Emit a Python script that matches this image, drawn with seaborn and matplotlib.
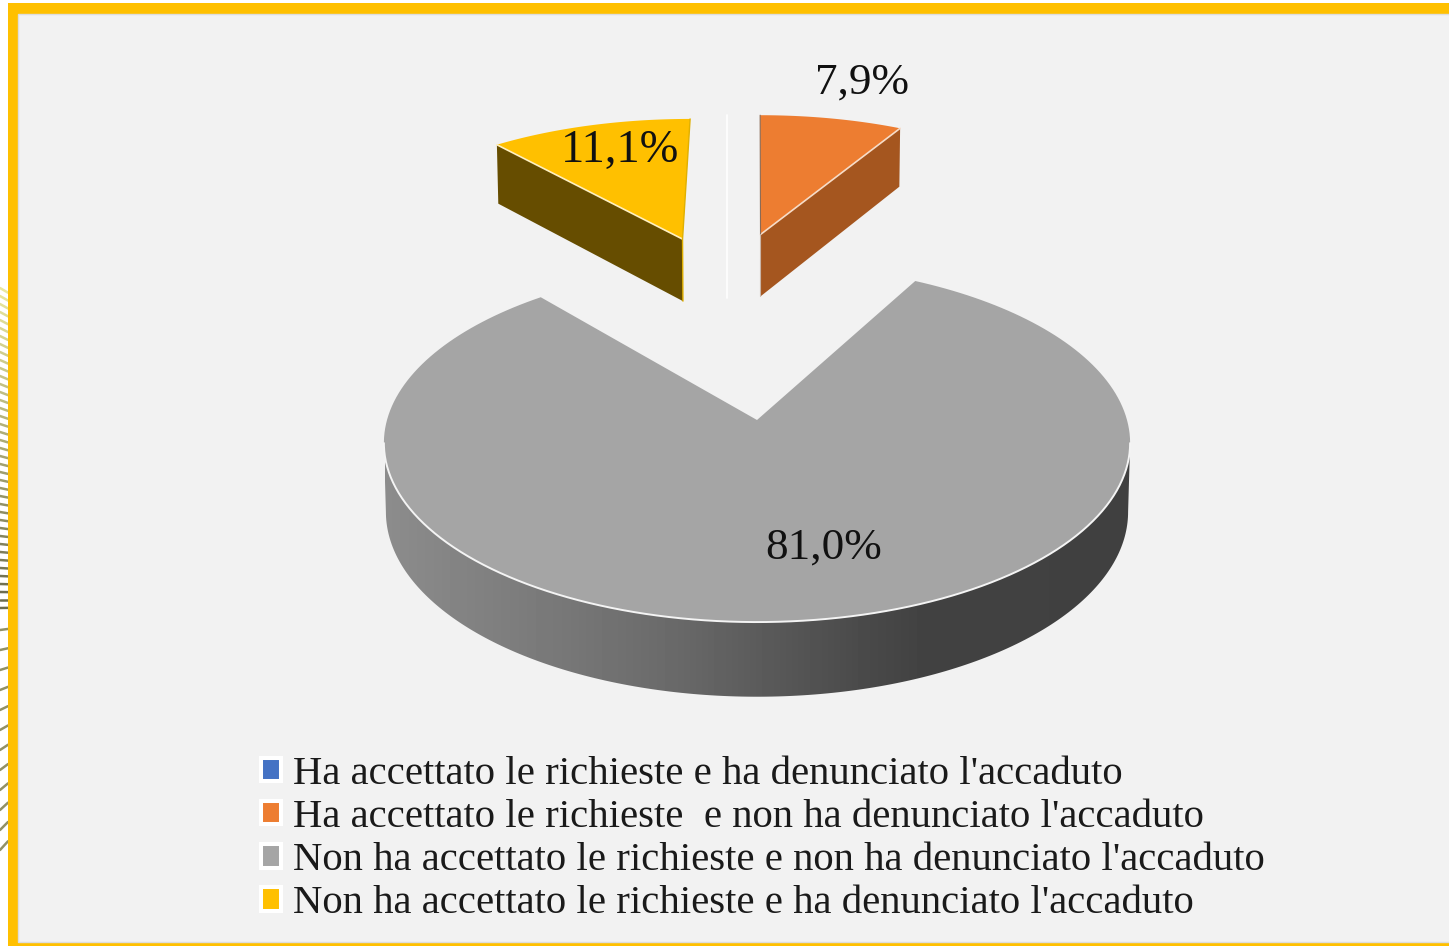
import numpy as np
import seaborn as sns
import matplotlib.pyplot as plt
from matplotlib.patches import Patch, Polygon

categories = ["Ha accettato le richieste e ha denunciato l'accaduto",
              "Ha accettato le richieste  e non ha denunciato l'accaduto",
              "Non ha accettato le richieste e non ha denunciato l'accaduto",
              "Non ha accettato le richieste e ha denunciato l'accaduto"]
values = [0.0, 7.9, 81.0, 11.1]
value_labels = ["", "7,9%", "81,0%", "11,1%"]
colors = ["#4472c4", "#ed7d31", "#a5a5a5", "#ffc000"]

sns.set_theme(style="white")
plt.rcParams['font.family'] = ['Liberation Serif', 'DejaVu Serif']

W, H = 1449, 946
fig = plt.figure(figsize=(W / 100, H / 100), dpi=100, facecolor="white")
ax = fig.add_axes([0, 0, 1, 1])
ax.set_xlim(0, W)
ax.set_ylim(H, 0)
ax.axis("off")

# perspective of the 3d pie, in image pixels
PERSP = 0.129


def project(u, v, bottom=False):
    w = 1 + PERSP * v
    if bottom:
        return 757 + 368 * u / w, 488 - 181.8 * v / w
    return 757 + 370 * u / w, 420 - 176 * v / w


def arc(start, stop, offset=(0, 0), bottom=False, r=1.0):
    t = np.radians(np.linspace(start, stop, 200))
    return project(offset[0] + r * np.sin(t), offset[1] + r * np.cos(t), bottom)


def radial(angle, offset=(0, 0), bottom=False, r=1.0):
    t = np.radians(angle)
    return project(np.array([offset[0], offset[0] + r * np.sin(t)]),
                   np.array([offset[1], offset[1] + r * np.cos(t)]), bottom)


# frame and page background
ax.add_patch(plt.Rectangle((8, 3), W, H, fc="#ffc000", ec="none", zorder=1))
ax.add_patch(plt.Rectangle((18, 14), W, 928, fc="#f2f2f2", ec="#dddddd", lw=1, zorder=2))
for y in np.r_[np.arange(288, 612, 8.0), np.arange(630, 862, 20.0)]:
    strength = min(1, (y - 280) / 320) if y < 612 else 0.7
    col = np.array([0.93, 0.92, 0.62]) * (1 - strength) + np.array([0.42, 0.42, 0.3]) * strength
    slope = 0.015 if y < 612 else 0.035
    ax.plot([0, 8], [y, y + (600 - y) * slope], color=col, lw=1.8, zorder=0)

# start at 12 o'clock, clockwise
angles = np.cumsum([0] + values) * 3.6
offsets = [(0.0, 1.2), (0.011, 1.22), (0, 0), (-0.232, 1.185)]
R = 1.01

# grey slice: wall with a left to right shading, then the top
lim = np.degrees(np.arccos(-PERSP))
xt, yt = arc(lim, 360 - lim)
xb, yb = arc(lim, 360 - lim, bottom=True)
wall = Polygon(np.c_[np.r_[xt, xb[::-1]], np.r_[yt, yb[::-1]]], fc="none", ec="none", zorder=3)
ax.add_patch(wall)
stops_x = [385, 470, 570, 670, 770, 870, 920, 1131]
stops_v = [0.55, 0.51, 0.465, 0.415, 0.35, 0.285, 0.26, 0.25]
grad = np.interp(np.arange(385, 1132), stops_x, stops_v)[None, :]
img = ax.imshow(grad, extent=(385, 1132, 700, 400), cmap="gray", vmin=0, vmax=1,
                aspect="auto", zorder=3)
img.set_clip_path(wall)
ax.set_xlim(0, W)
ax.set_ylim(H, 0)

xa, ya = arc(angles[2], angles[3])
xv, yv = project(0, 0)
ax.fill(np.r_[xv, xa], np.r_[yv, ya], color=colors[2], lw=0, zorder=4)
ax.plot(xt, yt, color="#f4f4f4", lw=1.4, zorder=5)

# blue slice has no width, only its seam is left
ax.plot([727, 727], [115, 298], color="white", lw=1.2, zorder=3)

# orange slice
off = offsets[1]
xr, yr = radial(angles[2], off, r=R)
xrb, yrb = radial(angles[2], off, bottom=True, r=R)
ax.fill([xr[0], xr[1], xrb[1], xrb[0]], [yr[0], yr[1], yrb[1], yrb[0]], color="#a5561f", lw=0, zorder=3)
xa, ya = arc(angles[1], angles[2], off, r=R)
xv, yv = project(*off)
ax.fill(np.r_[xv, xa], np.r_[yv, ya], color=colors[1], lw=0, zorder=4)
ax.plot(xr, yr, color="#f6dcc8", lw=1.2, zorder=5)
ax.plot([xa[0], xv], [ya[0], yv], color="#8a6a55", lw=0.8, zorder=5)
ax.plot([xv, project(*off, bottom=True)[0]], [yv, project(*off, bottom=True)[1]],
        color="#c9b5a8", lw=0.8, zorder=5)

# yellow slice
off = offsets[3]
xr, yr = radial(angles[3], off, r=R)
xrb, yrb = radial(angles[3], off, bottom=True, r=R)
ax.fill([xr[0], xr[1], xrb[1], xrb[0]], [yr[0], yr[1], yrb[1], yrb[0]], color="#664d00", lw=0, zorder=3)
xa, ya = arc(angles[3], angles[4], off, r=R)
xv, yv = project(*off)
ax.fill(np.r_[xv, xa], np.r_[yv, ya], color=colors[3], lw=0, zorder=4)
ax.plot(xr, yr, color="#fff0c0", lw=1.2, zorder=5)
ax.plot([xa[-1], xv, project(*off, bottom=True)[0]], [ya[-1], yv, project(*off, bottom=True)[1]],
        color="#e0b000", lw=1.0, zorder=5)

# value labels
ax.text(862, 83, value_labels[1], fontsize=32.5, color="#111111", ha="center", va="center", zorder=6)
ax.text(620, 151, value_labels[3], fontsize=33.5, color="#111111", ha="center", va="center", zorder=6)
ax.text(824, 548, value_labels[2], fontsize=32.5, color="#111111", ha="center", va="center", zorder=6)

handles = [Patch(fc=c, ec="white", lw=2.9) for c in colors]
ax.legend(handles, categories, loc="upper left", bbox_to_anchor=(260.5, 756),
          bbox_transform=ax.transData, frameon=False, fontsize=29.35, handlelength=0.515,
          handleheight=0.515, handletextpad=0.28, labelspacing=0.15, borderpad=0,
          borderaxespad=0, labelcolor="#1a1a1a")

fig.savefig("out.png", dpi=100, facecolor="white")
